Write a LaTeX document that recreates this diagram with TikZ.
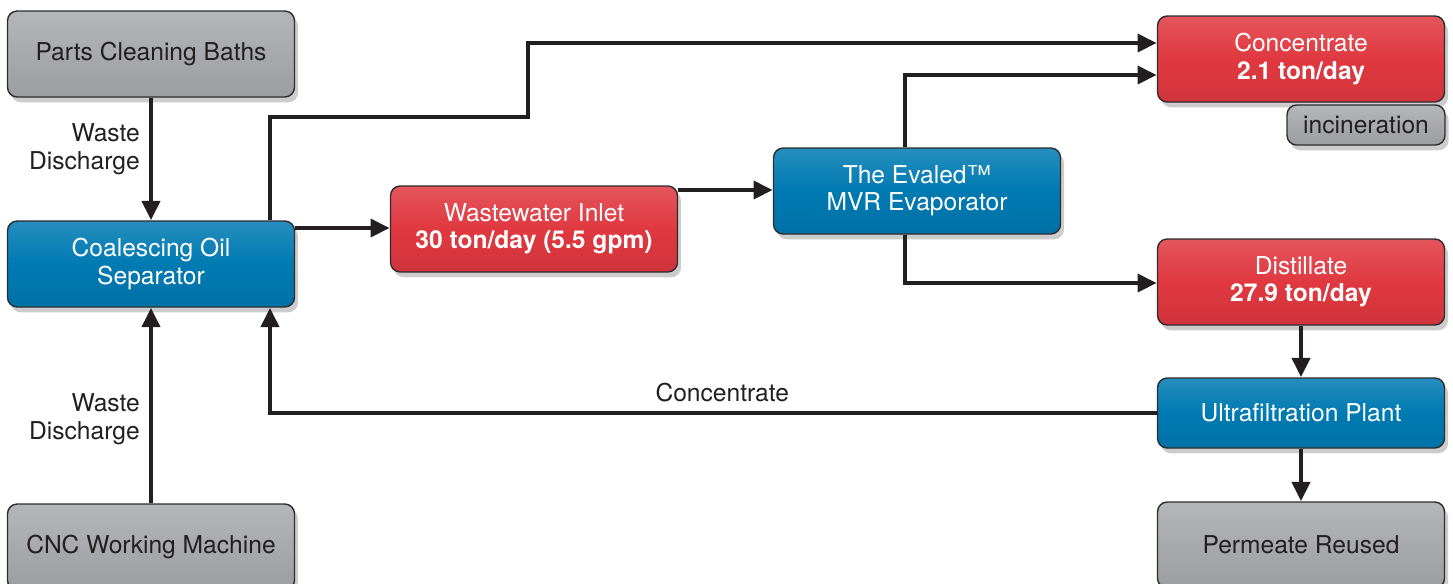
\documentclass[tikz,border=0pt]{standalone}
\usepackage{fontspec}
\setmainfont{TeX Gyre Heros}
\usetikzlibrary{arrows.meta,shadows}
\definecolor{ink}{RGB}{35,31,32}
\definecolor{boxline}{RGB}{45,45,48}
\definecolor{boxgray}{RGB}{168,169,173}
\definecolor{boxblue}{RGB}{0,122,178}
\definecolor{boxred}{RGB}{224,56,64}

\begin{document}
\begin{tikzpicture}[x=0.02cm,y=-0.02cm,
  every node/.style={font=\fontsize{14}{15.5}\selectfont},
  box/.style={draw=boxline, line width=0.8pt, rounded corners=5.5pt,
    minimum width=5.74cm, minimum height=1.72cm, align=center,
    drop shadow={opacity=0.4, shadow xshift=2pt, shadow yshift=-3pt}},
  graybox/.style={box, top color=boxgray!85!white, bottom color=boxgray!93!black,
    middle color=boxgray, text=ink},
  bluebox/.style={box, top color=boxblue!85!white, bottom color=boxblue!93!black,
    middle color=boxblue, text=white},
  redbox/.style={box, top color=boxred!85!white, bottom color=boxred!93!black,
    middle color=boxred, text=white},
  flow/.style={draw=ink, line width=2.8pt, -{Triangle[length=11pt,width=10pt]}},
  lbl/.style={text=ink, inner sep=5pt}]
\useasboundingbox (0,0) rectangle (1453,583);

\node[graybox] (parts) at (151,54) {Parts Cleaning Baths};
\node[bluebox] (coal) at (151,264) {Coalescing Oil\\Separator};
\node[graybox] (cnc) at (151,547) {CNC Working Machine};
\node[redbox] (wwi) at (534,229) {Wastewater Inlet\\\textbf{30 ton/day (5.5 gpm)}};
\node[bluebox] (eva) at (917,191) {The Evaled™\\MVR Evaporator};
\node[redbox] (conc) at (1301,59) {Concentrate\\\textbf{2.1 ton/day}};
\node[graybox, minimum width=3.16cm, minimum height=0.8cm] (inc) at (1366,125) {incineration};
\node[redbox] (dist) at (1301,282) {Distillate\\\textbf{27.9 ton/day}};
\node[bluebox, minimum height=1.4cm] (uf) at (1301,413) {Ultrafiltration Plant};
\node[graybox] (perm) at (1301,545) {Permeate Reused};

\coordinate (bypass) at (270,117);
\coordinate (bypasstop) at (528,43);
\coordinate (evtap) at (905,75);
\coordinate (inletrow) at (0,228);
\coordinate (evarow) at (0,190);
\coordinate (distrow) at (0,283);

\draw[flow] (parts) -- node[lbl, left, align=right, pos=0.42] {Waste\\Discharge} (coal);
\draw[flow] (cnc) -- node[lbl, left, align=right, pos=0.43] {Waste\\Discharge} (coal);
\draw[flow] (coal.east |- inletrow) -- (wwi.west |- inletrow);
\draw[flow] (coal.north -| bypass) -- (bypass) -| (bypasstop) -- (conc.west |- bypasstop);
\draw[flow] (wwi.east |- evarow) -- (eva.west |- evarow);
\draw[flow] (eva.north -| evtap) |- (conc.west |- evtap);
\draw[flow] (eva.south -| evtap) |- (dist.west |- distrow);
\draw[flow] (dist) -- (uf);
\draw[flow] (uf) -- (perm);
\draw[flow] (uf.west) -| node[lbl, above, pos=0.245] {Concentrate} (coal.south -| bypass);
\end{tikzpicture}
\end{document}
